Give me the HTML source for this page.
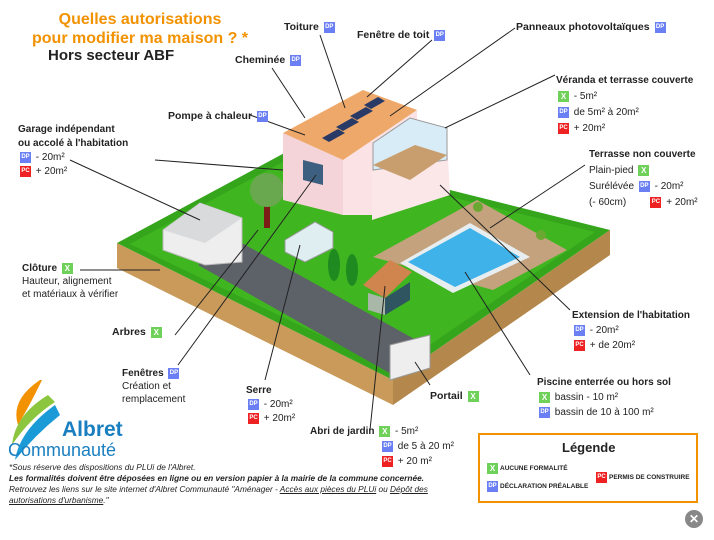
<!DOCTYPE html>
<html><head><meta charset="utf-8"><style>
body{margin:0;width:714px;height:540px;background:#fff;position:relative;overflow:hidden;font-family:"Liberation Sans","DejaVu Sans",sans-serif;color:#222}
.t{position:absolute;font-size:10px;line-height:13px;white-space:nowrap}
.b{font-weight:bold;font-size:10.5px}
.g,.d,.p{display:inline-block;width:11px;height:11px;font-size:6px;line-height:11px;text-align:center;color:#fff;font-weight:bold;vertical-align:middle;margin:0 2px}
.g{background:#6fd05a;font-size:8px}.d{background:#6b7ff5}.p{background:#ee2222}
svg{position:absolute;left:0;top:0}
</style></head><body>
<svg width="714" height="540">
<!-- fence faces -->
<polygon points="117,243 393,380 393,405 117,268" fill="#c99a5a"/>
<polygon points="393,380 610,230 610,255 393,405" fill="#b4884c"/>
<!-- lawn with hedge -->
<polygon points="117,243 290,150 610,230 393,380" fill="#35a51c"/>
<polygon points="130,244 290,158 595,232 393,370" fill="#3fb620"/>
<!-- stone path -->
<polygon points="198,265 240,242 425,345 393,375" fill="#5d6168"/>
<!-- gate -->
<polygon points="390,345 430,335 430,368 390,380" fill="#eee" stroke="#999"/>
<!-- terrace -->
<polygon points="373,257 477,200 567,250 493,290" fill="#c3a27d"/>
<!-- pool -->
<polygon points="400,263 470,223 530,257 453,293" fill="#e8eef0"/>
<polygon points="408,262 470,228 520,257 455,287" fill="#3fb2ea"/>
<circle cx="478" cy="207" r="5" fill="#6aa832"/><circle cx="541" cy="235" r="5" fill="#6aa832"/>
<!-- garage -->
<polygon points="163,230 200,203 242,218 242,262 205,265 163,250" fill="#eeeeee" stroke="#bbb"/>
<polygon points="163,230 200,203 242,218 205,243" fill="#d8dadc"/>
<!-- tree -->
<rect x="264" y="200" width="6" height="28" fill="#7a1e16"/>
<circle cx="267" cy="190" r="17" fill="#6aa84f"/>
<!-- serre -->
<polygon points="285,240 315,222 333,232 333,248 305,262 285,252" fill="#dfeef0" stroke="#999"/>
<!-- shrubs -->
<ellipse cx="334" cy="265" rx="6" ry="16" fill="#1f8a1f"/><ellipse cx="352" cy="270" rx="6" ry="16" fill="#1f8a1f"/>
<!-- abri -->
<polygon points="363,285 390,260 412,272 385,298" fill="#d0844e"/>
<polygon points="368,293 385,298 385,315 368,310" fill="#a9b7a8"/><polygon points="385,298 410,282 410,300 385,315" fill="#2f5560"/>
<!-- house -->
<polygon points="283,133 343,160 343,215 283,200" fill="#f4d4d8"/>
<polygon points="343,160 417,110 417,150 372,170 372,215 343,215" fill="#fbe2e5"/>
<polygon points="372,170 447,140 450,195 372,220" fill="#fbe6e8"/>
<polygon points="283,133 363,90 417,110 343,160" fill="#eea96a"/>
<g fill="#2a3a66"><polygon points="322,138 338,129 345,133 329,142"/><polygon points="336,127 352,118 359,122 343,131"/><polygon points="350,116 366,107 373,111 357,120"/><polygon points="364,105 378,97 385,101 371,109"/></g>
<polygon points="373,143 410,118 447,128 447,160 373,170" fill="#d8ecf7" stroke="#999"/>
<polygon points="373,165 415,145 447,155 410,180" fill="#c99e6e"/>
<polygon points="303,160 323,165 323,185 303,180" fill="#3d5f80"/>
<!-- leader lines -->
<g stroke="#222" stroke-width="1" fill="none">
<path d="M320 35 L345 108"/><path d="M432 40 L367 97"/><path d="M272 68 L305 118"/><path d="M515 28 L390 116"/>
<path d="M555 75 L445 128"/><path d="M250 115 L305 135"/><path d="M155 160 L283 170"/><path d="M70 160 L200 220"/>
<path d="M585 165 L490 228"/><path d="M80 270 L160 270"/><path d="M175 335 L258 230"/><path d="M178 365 L316 175"/>
<path d="M265 380 L300 245"/><path d="M570 310 L440 185"/><path d="M530 375 L465 272"/><path d="M430 385 L415 362"/><path d="M370 430 L385 286"/>
</g>
<!-- logo -->
<path d="M40 380 Q10 400 18 425 Q30 405 42 380Z" fill="#f39200"/>
<path d="M48 395 Q15 415 12 445 Q30 418 55 402Z" fill="#8cc63f"/>
<path d="M55 405 Q20 430 15 460 Q35 435 60 415Z" fill="#1a9ad6"/>
<!-- legend box -->
<rect x="479" y="434" width="218" height="68" fill="none" stroke="#f39200" stroke-width="2"/>
<circle cx="694" cy="519" r="9" fill="#888"/><text x="694" y="523" font-size="12" fill="#fff" text-anchor="middle" font-weight="bold" font-family="Liberation Sans">✕</text>
</svg>
<div class="t" style="left:32px;top:10px;color:#f39200;font-weight:bold;font-size:16px;line-height:19px;text-align:center">Quelles autorisations<br>pour modifier ma maison ? *</div>
<div class="t" style="left:48px;top:49px;font-weight:bold;font-size:15px">Hors secteur ABF</div>
<div class="t b" style="left:284px;top:21px">Toiture <span class="d">DP</span></div>
<div class="t b" style="left:357px;top:29px">Fenêtre de toit <span class="d">DP</span></div>
<div class="t b" style="left:516px;top:21px">Panneaux photovoltaïques <span class="d">DP</span></div>
<div class="t b" style="left:235px;top:54px">Cheminée <span class="d">DP</span></div>
<div class="t" style="left:556px;top:73px;line-height:16px"><b>Véranda et terrasse couverte</b><br><span class="g">X</span> - 5m²<br><span class="d">DP</span> de 5m² à 20m²<br><span class="p">PC</span> + 20m²</div>
<div class="t b" style="left:168px;top:110px">Pompe à chaleur <span class="d">DP</span></div>
<div class="t" style="left:18px;top:123px;line-height:14px"><b>Garage indépendant<br>ou accolé à l'habitation</b><br><span class="d">DP</span> - 20m²<br><span class="p">PC</span> + 20m²</div>
<div class="t" style="left:589px;top:147px;line-height:16px"><b>Terrasse non couverte</b><br>Plain-pied <span class="g">X</span><br>Surélévée <span class="d">DP</span> - 20m²<br>(- 60cm) &nbsp;&nbsp;&nbsp;&nbsp;&nbsp;&nbsp;&nbsp;<span class="p">PC</span> + 20m²</div>
<div class="t" style="left:22px;top:262px;line-height:13px"><b>Clôture</b> <span class="g">X</span><br>Hauteur, alignement<br>et matériaux à vérifier</div>
<div class="t b" style="left:112px;top:326px">Arbres <span class="g">X</span></div>
<div class="t" style="left:572px;top:308px;line-height:15px"><b>Extension de l'habitation</b><br><span class="d">DP</span> - 20m²<br><span class="p">PC</span> + de 20m²</div>
<div class="t" style="left:122px;top:367px;line-height:13px"><b>Fenêtres</b> <span class="d">DP</span><br>Création et<br>remplacement</div>
<div class="t" style="left:246px;top:384px;line-height:14px"><b>Serre</b><br><span class="d">DP</span> - 20m²<br><span class="p">PC</span> + 20m²</div>
<div class="t b" style="left:430px;top:390px">Portail <span class="g">X</span></div>
<div class="t" style="left:537px;top:375px;line-height:15px"><b>Piscine enterrée ou hors sol</b><br><span class="g">X</span> bassin - 10 m²<br><span class="d">DP</span> bassin de 10 à 100 m²</div>
<div class="t" style="left:310px;top:424px;line-height:15px"><b>Abri de jardin</b> <span class="g">X</span> - 5m²<br><span style="margin-left:70px"></span><span class="d">DP</span> de 5 à 20 m²<br><span style="margin-left:70px"></span><span class="p">PC</span> + 20 m²</div>
<div class="t" style="left:62px;top:419px;color:#1a7fc0;font-weight:bold;font-size:21px;line-height:22px">Albret</div>
<div class="t" style="left:8px;top:440px;color:#1a7fc0;font-size:18px;line-height:20px">Communauté</div>
<div class="t" style="left:9px;top:462px;font-size:8.3px;line-height:11px;font-style:italic">*Sous réserve des dispositions du PLUi de l'Albret.<br><b>Les formalités doivent être déposées en ligne ou en version papier à la mairie de la commune concernée.</b><br>Retrouvez les liens sur le site internet d'Albret Communauté "Aménager - <u>Accès aux pièces du PLUi</u> ou <u>Dépôt des</u><br><u>autorisations d'urbanisme</u>."</div>
<div class="t" style="left:562px;top:441px;font-weight:bold;font-size:13px">Légende</div>
<div class="t" style="left:485px;top:462px;font-size:6.5px;font-weight:bold"><span class="g">X</span>AUCUNE FORMALITÉ</div>
<div class="t" style="left:485px;top:480px;font-size:6.5px;font-weight:bold"><span class="d">DP</span>DÉCLARATION PRÉALABLE</div>
<div class="t" style="left:594px;top:471px;font-size:6.5px;font-weight:bold"><span class="p">PC</span>PERMIS DE CONSTRUIRE</div>
</body></html>
